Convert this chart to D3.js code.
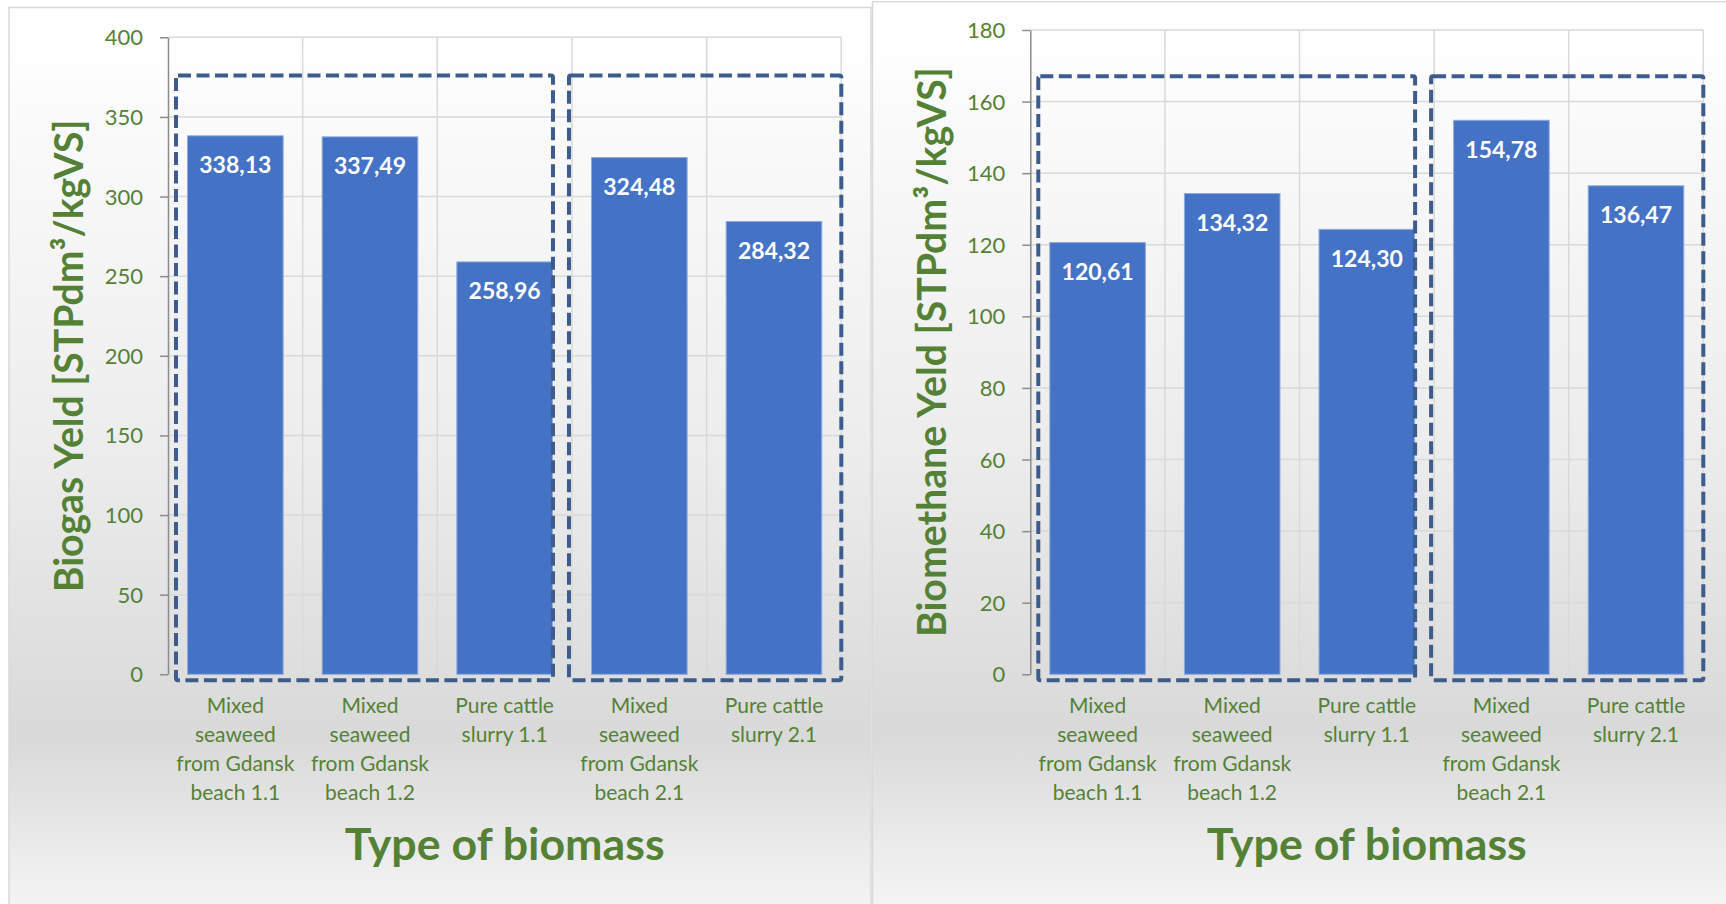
<!DOCTYPE html>
<html lang="en">
<head>
  <meta charset="UTF-8">
  <title>Biogas and biomethane yield by type of biomass</title>
  <style>
    body { margin: 0; background: #fff; }
    svg text { font-family: Lato, "Noto Sans", sans-serif; }
    .panel-border { fill: none; stroke: #d9d9d9; stroke-width: 1.5px; }
    .grid line { stroke: #d9d9d9; stroke-width: 1.5px; }
    .axis path, .axis line { stroke: #8c8c8c; stroke-width: 1.5px; }
    .axis text { fill: #548235; font-size: 22px; }
    .bar { fill: #4472c4; stroke: #8eaadb; stroke-width: 1px; }
    .value { fill: #fff; font-size: 23px; font-weight: 700; }
    .cat { fill: #548235; font-size: 21px; }
    .title { fill: #548235; font-weight: 700; }
    .group-box { fill: none; stroke: #3b5c8c; stroke-width: 4px; stroke-dasharray: 13 5.5; }
  </style>
</head>
<body>
  <svg id="chart" width="1726" height="904"></svg>

  <script src="https://d3js.org/d3.v7.min.js"></script>
  <script>
    const categories = [
      ['Mixed', 'seaweed', 'from Gdansk', 'beach 1.1'],
      ['Mixed', 'seaweed', 'from Gdansk', 'beach 1.2'],
      ['Pure cattle', 'slurry 1.1'],
      ['Mixed', 'seaweed', 'from Gdansk', 'beach 2.1'],
      ['Pure cattle', 'slurry 2.1']
    ];
    const biogasValues = [338.13, 337.49, 258.96, 324.48, 284.32];
    const biomethaneValues = [120.61, 134.32, 124.30, 154.78, 136.47];
    const biogasTicks = [0, 50, 100, 150, 200, 250, 300, 350, 400];
    const biomethaneTicks = [0, 20, 40, 60, 80, 100, 120, 140, 160, 180];
    // categories framed by the dashed boxes, first and last index
    const groups = [[0, 2], [3, 4]];
    const xTitle = 'Type of biomass';

    const svg = d3.select('#chart');
    const comma = d3.formatLocale({ decimal: ',', thousands: ' ', grouping: [3], currency: ['', ''] }).format('.2f');

    const defs = svg.append('defs');
    const grad = defs.append('linearGradient')
      .attr('id', 'bg').attr('x1', 0).attr('y1', 0).attr('x2', 0).attr('y2', 1);
    grad.append('stop').attr('offset', 0.04).attr('stop-color', '#ffffff');
    grad.append('stop').attr('offset', 0.1).attr('stop-color', '#fbfbfb');
    grad.append('stop').attr('offset', 0.45).attr('stop-color', '#ececec');
    grad.append('stop').attr('offset', 0.73).attr('stop-color', '#d9d9d9');
    grad.append('stop').attr('offset', 0.97).attr('stop-color', '#ffffff');

    const panels = [
      {
        values: biogasValues, ticks: biogasTicks, max: 400, boxTop: 376,
        title: 'Biogas Yeld [STPdm³/kgVS]', titleLen: 473,
        px: 9, py: 7.5, pw: 862,
        x0: 168, x1: 841.3, yTop: 37.3, yZero: 674.3,
        titleX: 83
      },
      {
        values: biomethaneValues, ticks: biomethaneTicks, max: 180, boxTop: 167.1,
        title: 'Biomethane Yeld [STPdm³/kgVS]', titleLen: 570,
        px: 872.5, py: 1.7, pw: 900,
        x0: 1030.3, x1: 1703.3, yTop: 30, yZero: 674.3,
        titleX: 946
      }
    ];

    // offsets of the dashed boxes relative to their band edges
    const boxPad = [{ l: 8, r: -19 }, { l: -3, r: 0 }];

    function fitText(sel, target) {
      const len = sel.node().getComputedTextLength();
      const fs = parseFloat(sel.attr('font-size'));
      sel.attr('font-size', fs * target / len);
    }

    panels.forEach(p => {
      const g = svg.append('g');

      g.append('rect')
        .attr('x', p.px).attr('y', p.py)
        .attr('width', p.pw).attr('height', 1000)
        .attr('fill', 'url(#bg)');
      g.append('rect')
        .attr('class', 'panel-border')
        .attr('x', p.px).attr('y', p.py)
        .attr('width', p.pw).attr('height', 1000);

      const idx = d3.range(p.values.length);
      const x = d3.scaleBand().domain(idx).range([p.x0, p.x1]);
      const xBar = d3.scaleBand().domain(idx).range([p.x0, p.x1])
        .paddingInner(0.29).paddingOuter(0.145);
      const y = d3.scaleLinear().domain([0, p.max]).range([p.yZero, p.yTop]);

      // gridlines
      const grid = g.append('g').attr('class', 'grid');
      grid.selectAll('.h').data(p.ticks.filter(t => t > 0)).enter().append('line')
        .attr('x1', p.x0).attr('x2', p.x1)
        .attr('y1', d => y(d)).attr('y2', d => y(d));
      grid.selectAll('.v').data(idx).enter().append('line')
        .attr('x1', d => x(d) + x.bandwidth()).attr('x2', d => x(d) + x.bandwidth())
        .attr('y1', p.yTop).attr('y2', p.yZero);

      // y axis
      const axis = g.append('g')
        .attr('class', 'axis')
        .attr('transform', `translate(${p.x0},0)`)
        .call(d3.axisLeft(y).tickValues(p.ticks).tickSize(8).tickSizeOuter(0).tickPadding(17));
      axis.selectAll('text').attr('dy', '0.34em');

      // bars
      g.selectAll('.bar').data(p.values).enter().append('rect')
        .attr('class', 'bar')
        .attr('x', (d, i) => xBar(i))
        .attr('width', xBar.bandwidth())
        .attr('y', d => y(d))
        .attr('height', d => y(0) - y(d));

      g.selectAll('.value').data(p.values).enter().append('text')
        .attr('class', 'value')
        .attr('text-anchor', 'middle')
        .attr('x', (d, i) => xBar(i) + xBar.bandwidth() / 2)
        .attr('y', d => y(d) + 37.5)
        .text(d => comma(d));

      // dashed group boxes
      groups.forEach((gr, k) => {
        const left = x(gr[0]) + boxPad[k].l;
        const right = x(gr[1]) + x.bandwidth() + boxPad[k].r;
        g.append('rect')
          .attr('class', 'group-box')
          .attr('x', left).attr('y', y(p.boxTop))
          .attr('width', right - left)
          .attr('height', y(0) + 6 - y(p.boxTop))
          .attr('rx', 2);
      });

      // category labels
      const cat = g.selectAll('.cat').data(categories).enter().append('text')
        .attr('class', 'cat')
        .attr('text-anchor', 'middle');
      cat.selectAll('tspan').data((d, i) => d.map(line => ({ line, i }))).enter().append('tspan')
        .attr('x', d => x(d.i) + x.bandwidth() / 2)
        .attr('y', (d, j) => 713 + j * 29)
        .text(d => d.line);

      // axis titles
      const xt = g.append('text')
        .attr('class', 'title')
        .attr('text-anchor', 'middle')
        .attr('x', (p.x0 + p.x1) / 2)
        .attr('y', 860)
        .attr('font-size', 44)
        .text(xTitle);
      fitText(xt, 320);

      const yt = g.append('text')
        .attr('class', 'title')
        .attr('text-anchor', 'middle')
        .attr('transform', `translate(${p.titleX},${(p.yTop + p.yZero) / 2}) rotate(-90)`)
        .attr('font-size', 40)
        .text(p.title);
      fitText(yt, p.titleLen);
    });
  </script>
</body>
</html>
